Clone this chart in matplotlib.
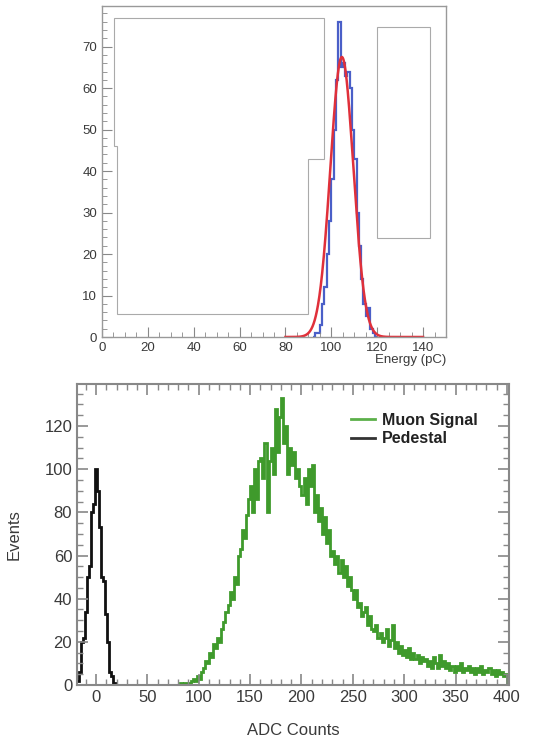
import matplotlib
matplotlib.use("Agg")
import matplotlib.pyplot as plt
from matplotlib.ticker import MultipleLocator
from matplotlib.lines import Line2D
from matplotlib.patches import Polygon, Rectangle
import numpy as np

plt.rcParams['font.family'] = ['Liberation Sans', 'DejaVu Sans']

# top panel: charge spectrum (1 pC bins) and gaussian fit
energy_lo = 92
energy_counts = [0, 1, 1, 3, 8, 12, 20, 28, 38, 50, 62, 76, 65, 66, 63, 64,
                 60, 50, 43, 30, 22, 14, 8, 5, 7, 2, 1, 0]
fit_amp, fit_mean, fit_sigma = 67.5, 104.6, 5.0
fit_range = (80, 140)

# bottom panel: ADC spectra (2 count bins)
muon_lo = 80
muon_counts = [0, 1, 0, 1, 1,   1, 2, 3, 2, 4,
               3, 6, 8, 11, 10,   15, 13, 19, 17, 22,
               20, 26, 29, 34, 37,   43, 40, 50, 47, 60,
               63, 72, 68, 79, 86,   92, 80, 100, 86, 104,
               105, 96, 112, 80, 104,   110, 98, 128, 108, 124,
               133, 112, 120, 98, 110,   102, 108, 96, 100, 92,
               88, 96, 84, 100, 92,   102, 80, 88, 76, 82,
               70, 78, 66, 72, 60,   62, 56, 60, 52, 58,
               50, 55, 46, 50, 44,   40, 44, 36, 38, 32,
               34, 36, 28, 32, 26,   25, 28, 22, 24, 20,
               22, 26, 18, 21, 28,   17, 20, 15, 18, 14,
               16, 13, 17, 12, 15,   12, 14, 10, 13, 11,
               12, 9, 11, 8, 13,   10, 8, 14, 9, 11,
               8, 10, 7, 9, 6,   9, 7, 10, 6, 8,
               7, 9, 6, 8, 5,   8, 6, 9, 5, 7,
               6, 8, 5, 7, 4,   7, 5, 6, 4, 5]
ped_lo = -19
ped_counts = [2, 6, 20, 22, 34, 50, 55, 80, 84, 100, 90, 73, 50, 48, 33,
              20, 6, 4, 1, 0]

W, H = 537, 742
fig = plt.figure(figsize=(W / 100, H / 100), dpi=100)
txt = '#3a3a3a'

# ---------- top ----------
ax1 = fig.add_axes([102 / W, 1 - 337 / H, (446 - 102) / W, (337 - 6) / H])
edges = np.arange(energy_lo, energy_lo + len(energy_counts) + 1)
ax1.stairs(energy_counts, edges, color='#4a5fc8', lw=1.6)
xf = np.linspace(fit_range[0], fit_range[1], 500)
ax1.plot(xf, fit_amp * np.exp(-0.5 * ((xf - fit_mean) / fit_sigma) ** 2),
         color='#e0303a', lw=1.8)
ax1.set_xlim(0, 150)
ax1.set_ylim(0, 79.8)
ax1.xaxis.set_major_locator(MultipleLocator(20))
ax1.xaxis.set_minor_locator(MultipleLocator(5))
ax1.yaxis.set_major_locator(MultipleLocator(10))
ax1.yaxis.set_minor_locator(MultipleLocator(2))
ax1.tick_params(which='both', direction='in', color='#888', labelsize=9.5,
                labelcolor=txt)
ax1.tick_params(which='major', length=7)
ax1.tick_params(which='minor', length=3.5)
for s in ax1.spines.values():
    s.set_color('#999')
    s.set_linewidth(1)
ax1.set_xlabel('Energy (pC)', fontsize=9.5, color=txt, loc='right', labelpad=0)

# blanked-out boxes of the original picture
def px(x, y):
    return (x / W, 1 - y / H)

boxA = [px(114, 18), px(324, 18), px(324, 159), px(308, 159), px(308, 314),
        px(117, 314), px(117, 146), px(114, 146)]
fig.patches.append(Polygon(boxA, closed=True, transform=fig.transFigure,
                           facecolor='white', edgecolor='#aaa', lw=0.8))
fig.patches.append(Rectangle(px(377, 238), 53 / W, 211 / H,
                             transform=fig.transFigure, facecolor='white',
                             edgecolor='#aaa', lw=0.8))

# ---------- bottom ----------
ax2 = fig.add_axes([77 / W, 1 - 685 / H, (509 - 77) / W, (685 - 384) / H])
m_edges = np.arange(muon_lo, muon_lo + 2 * len(muon_counts) + 1, 2)
p_edges = np.arange(ped_lo, ped_lo + 2 * len(ped_counts) + 1, 2)
ax2.stairs(muon_counts, m_edges, color='#3f9a2c', lw=2)
ax2.stairs(ped_counts, p_edges, color='#111111', lw=2)
ax2.set_xlim(-18.5, 402)
ax2.set_ylim(0, 139.5)
ax2.xaxis.set_major_locator(MultipleLocator(50))
ax2.xaxis.set_minor_locator(MultipleLocator(10))
ax2.yaxis.set_major_locator(MultipleLocator(20))
ax2.yaxis.set_minor_locator(MultipleLocator(5))
ax2.tick_params(which='both', direction='in', top=True, right=True,
                color='#888', labelsize=12, labelcolor=txt)
ax2.tick_params(which='major', length=8, width=1.2)
ax2.tick_params(which='minor', length=4, width=1)
for s in ax2.spines.values():
    s.set_color('#888')
    s.set_linewidth(1.5)
ax2.set_xlabel('ADC Counts', fontsize=12, color=txt, labelpad=13)
ax2.set_ylabel('Events', fontsize=12, color=txt, labelpad=16)

handles = [Line2D([], [], color='#5cb04a', lw=2),
           Line2D([], [], color='#333333', lw=2)]
ax2.legend(handles, ['Muon Signal', 'Pedestal'], loc='upper left',
           bbox_to_anchor=(0.615, 0.93), frameon=False, borderpad=0,
           handlelength=1.5, handletextpad=0.45, labelspacing=0.2,
           prop={'weight': 'bold', 'size': 11.5}, labelcolor='#222')

fig.savefig('out.png', dpi=100)
